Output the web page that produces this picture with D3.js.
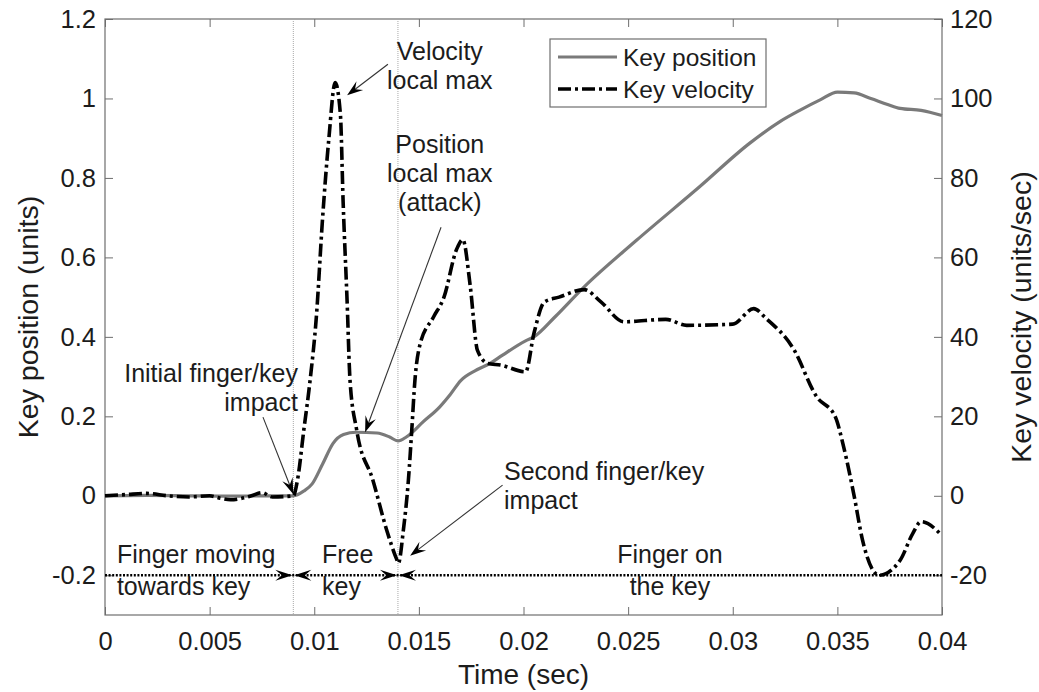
<!DOCTYPE html>
<html>
<head>
<meta charset="utf-8">
<script src="https://cdn.jsdelivr.net/npm/d3@7"></script>
<style>
  html, body { margin: 0; padding: 0; background: #fff; }
  svg { display: block; font-family: "Liberation Sans", Arial, Helvetica, sans-serif; }
</style>
</head>
<body>
<svg id="chart" width="1039" height="692"></svg>
<script>
// ---- data -------------------------------------------------------------
// Key position (units) sampled over time (sec)
const positionTime = [0, 0.002, 0.004, 0.006, 0.008, 0.009, 0.0095, 0.0099, 0.0104, 0.0109, 0.0114,
  0.012, 0.013, 0.0136, 0.014, 0.0144, 0.0152, 0.016, 0.0165, 0.017, 0.0177, 0.0184, 0.019,
  0.0201, 0.0205, 0.0215, 0.0229, 0.0254, 0.0284, 0.0308, 0.0322, 0.0332, 0.0342, 0.035, 0.0358,
  0.0366, 0.0374, 0.038, 0.039, 0.04];
const positionValue = [0, 0.001, 0, -0.001, 0, 0, 0.012, 0.03, 0.08, 0.132, 0.154,
  0.16, 0.158, 0.148, 0.138, 0.148, 0.186, 0.224, 0.255, 0.29, 0.315, 0.333, 0.354,
  0.39, 0.40, 0.45, 0.526, 0.643, 0.777, 0.887, 0.94, 0.97, 0.997, 1.016, 1.014,
  1.0, 0.985, 0.975, 0.97, 0.957];

// Key velocity (units/sec) sampled over time (sec)
const velocityTime = [0, 0.001, 0.002, 0.003, 0.004, 0.005, 0.0055, 0.006, 0.007, 0.0075, 0.008,
  0.009, 0.0092, 0.0095, 0.0098, 0.0101, 0.0104, 0.0107, 0.011, 0.01125, 0.01138, 0.01157, 0.01171,
  0.01203, 0.0128, 0.01346, 0.01394, 0.01402, 0.01426, 0.0145, 0.01466, 0.01481, 0.01505, 0.0157,
  0.0162, 0.0168, 0.0171, 0.01745, 0.0178, 0.0183, 0.0189, 0.0201, 0.0205, 0.021, 0.0217, 0.0229,
  0.0237, 0.0248, 0.0268, 0.0278, 0.030, 0.031, 0.0316, 0.0329, 0.034, 0.0349, 0.0353,
  0.0358, 0.0362, 0.037, 0.038, 0.0386, 0.039, 0.04];
const velocityValue = [0, 0.3, 0.6, 0, -0.3, 0, -0.6, -1, 0, 0.8, -0.3,
  0, 4, 16.5, 29, 45, 70, 90, 104, 96, 74, 49, 29,
  16.5, 4, -8.6, -16, -17, -8.6, 4, 16.5, 29, 38, 45,
  50, 62, 64.5, 53, 36.6, 33.3, 32.9, 31.2, 40.9, 48.8, 50, 51.9,
  48.8, 43.8, 44.4, 42.9, 43.2, 47.1, 44.6, 37, 25, 19.9, 12.3,
  0, -11.1, -20, -16.2, -9.5, -6.5, -10];

// axis ticks
const timeTicks = [0, 0.005, 0.01, 0.015, 0.02, 0.025, 0.03, 0.035, 0.04];
const timeTickLabels = ["0", "0.005", "0.01", "0.015", "0.02", "0.025", "0.03", "0.035", "0.04"];
const positionTicks = [-0.2, 0, 0.2, 0.4, 0.6, 0.8, 1, 1.2];
const positionTickLabels = ["-0.2", "0", "0.2", "0.4", "0.6", "0.8", "1", "1.2"];
const velocityTicks = [-20, 0, 20, 40, 60, 80, 100, 120];
const velocityTickLabels = ["-20", "0", "20", "40", "60", "80", "100", "120"];

// phase boundaries (sec) and the level of the phase arrows (position units)
const phaseBounds = [0, 0.009, 0.014, 0.04];
const phaseLevel = -0.2;

// annotation callouts: arrow from (t0,y0) to (t1,y1), in time / position units
const callouts = [
  { t0: 0.01352, y0: 1.086, t1: 0.01157, y1: 1.008 },
  { t0: 0.01606, y0: 0.676, t1: 0.01243, y1: 0.160 },
  { t0: 0.00755, y0: 0.198, t1: 0.00900, y1: 0.004 },
  { t0: 0.01900, y0: 0.027, t1: 0.01458, y1: -0.151 }
];
// annotation texts: anchor time, baseline positions, alignment
const notes = [
  { t: 0.0160, ys: [1.096, 1.023], anchor: "middle", lines: ["Velocity", "local max"] },
  { t: 0.0160, ys: [0.864, 0.791, 0.718], anchor: "middle", lines: ["Position", "local max", "(attack)"] },
  { t: 0.00922, ys: [0.286, 0.213], anchor: "end", lines: ["Initial finger/key", "impact"] },
  { t: 0.01907, ys: [0.0395, -0.033], anchor: "start", lines: ["Second finger/key", "impact"] },
  { t: 0.00057, ys: [-0.169, -0.249], anchor: "start", lines: ["Finger moving", "towards key"] },
  { t: 0.01037, ys: [-0.169, -0.249], anchor: "start", lines: ["Free", "key"] },
  { t: 0.0270, ys: [-0.169, -0.249], anchor: "middle", lines: ["Finger on", "the key"] }
];

const legendLabels = ["Key position", "Key velocity"];

// ---- layout -----------------------------------------------------------
const plot = { left: 105, right: 942, top: 19, bottom: 615 };
const boxColor = "#6e6e6e";
const textColor = "#1c1c1c";
const posColor = "#7a7a7a";
const velDash = "13,4,3,4";

const svg = d3.select("#chart");

const x = d3.scaleLinear().domain([0, 0.04]).range([plot.left, plot.right]);
const yPos = d3.scaleLinear().domain([-0.3, 1.2]).range([plot.bottom, plot.top]);
const yVel = d3.scaleLinear().domain([-30, 120]).range([plot.bottom, plot.top]);

// ---- axes (ticks pointing inward) -------------------------------------
function styleAxis(g, fontSize) {
  g.select(".domain").remove();
  g.selectAll(".tick line").attr("stroke", boxColor).attr("stroke-width", 1);
  g.selectAll(".tick text").attr("fill", textColor).attr("font-size", fontSize);
  g.attr("font-family", null).attr("font-size", null);
}

svg.append("g")
  .attr("transform", `translate(0,${plot.bottom})`)
  .call(d3.axisBottom(x).tickValues(timeTicks)
    .tickFormat((d, i) => timeTickLabels[i]).tickSize(-8).tickPadding(17))
  .call(g => styleAxis(g, 25.5));

svg.append("g")
  .attr("transform", `translate(0,${plot.top})`)
  .call(d3.axisTop(x).tickValues(timeTicks).tickFormat("").tickSize(-8))
  .call(g => styleAxis(g, 25.5));

svg.append("g")
  .attr("transform", `translate(${plot.left},0)`)
  .call(d3.axisLeft(yPos).tickValues(positionTicks)
    .tickFormat((d, i) => positionTickLabels[i]).tickSize(-8).tickPadding(9))
  .call(g => styleAxis(g, 25.5));

svg.append("g")
  .attr("transform", `translate(${plot.right},0)`)
  .call(d3.axisRight(yVel).tickValues(velocityTicks)
    .tickFormat((d, i) => velocityTickLabels[i]).tickSize(-8).tickPadding(8))
  .call(g => styleAxis(g, 25.5));

// plot frame
svg.append("rect")
  .attr("x", plot.left).attr("y", plot.top)
  .attr("width", plot.right - plot.left).attr("height", plot.bottom - plot.top)
  .attr("fill", "none").attr("stroke", boxColor).attr("stroke-width", 1.2);

// axis titles
const midY = (plot.top + plot.bottom) / 2;
svg.append("text")
  .attr("transform", `translate(38,${midY}) rotate(-90)`)
  .attr("text-anchor", "middle").attr("font-size", 28.5).attr("fill", textColor)
  .text("Key position (units)");
svg.append("text")
  .attr("transform", `translate(1031,${midY}) rotate(-90)`)
  .attr("text-anchor", "middle").attr("font-size", 28.5).attr("fill", textColor)
  .text("Key velocity (units/sec)");
svg.append("text")
  .attr("x", (plot.left + plot.right) / 2).attr("y", 684)
  .attr("text-anchor", "middle").attr("font-size", 28).attr("fill", textColor)
  .text("Time (sec)");

// ---- phase boundaries -------------------------------------------------
svg.append("g").selectAll("line")
  .data(phaseBounds.slice(1, -1))
  .join("line")
  .attr("x1", d => x(d)).attr("x2", d => x(d))
  .attr("y1", plot.top).attr("y2", plot.bottom)
  .attr("stroke", "#a8a8a8").attr("stroke-width", 1).attr("stroke-dasharray", "1,1");

// arrowhead with a notched back, tip at (px,py), pointing along angle (radians)
function arrowHead(g, px, py, angle, L, Wd) {
  g.append("path")
    .attr("d", `M0,0 L${-L},${-Wd / 2} L${-0.62 * L},0 L${-L},${Wd / 2} Z`)
    .attr("transform", `translate(${px},${py}) rotate(${angle * 180 / Math.PI})`)
    .attr("fill", "#000");
}

// dotted phase arrows along the -0.2 level
const phaseG = svg.append("g");
phaseG.append("line")
  .attr("x1", x(phaseBounds[0])).attr("x2", x(phaseBounds[3]))
  .attr("y1", yPos(phaseLevel)).attr("y2", yPos(phaseLevel))
  .attr("stroke", "#000").attr("stroke-width", 2.6).attr("stroke-dasharray", "2,1.6");
phaseBounds.slice(1, -1).forEach(b => {
  arrowHead(phaseG, x(b) - 1, yPos(phaseLevel), 0, 17, 11);
  arrowHead(phaseG, x(b) + 1, yPos(phaseLevel), Math.PI, 17, 11);
});

// ---- series -----------------------------------------------------------
const posData = positionTime.map((t, i) => [t, positionValue[i]]);
const velData = velocityTime.map((t, i) => [t, velocityValue[i]]);

const posLine = d3.line().x(d => x(d[0])).y(d => yPos(d[1])).curve(d3.curveMonotoneX);
const velLine = d3.line().x(d => x(d[0])).y(d => yVel(d[1])).curve(d3.curveMonotoneX);

svg.append("path").datum(posData)
  .attr("d", posLine).attr("fill", "none")
  .attr("stroke", posColor).attr("stroke-width", 3.2).attr("stroke-linejoin", "round");

svg.append("path").datum(velData)
  .attr("d", velLine).attr("fill", "none")
  .attr("stroke", "#000").attr("stroke-width", 3.6)
  .attr("stroke-dasharray", velDash);

// ---- annotations ------------------------------------------------------
const noteG = svg.append("g");
callouts.forEach(c => {
  const x0 = x(c.t0), y0 = yPos(c.y0), x1 = x(c.t1), y1 = yPos(c.y1);
  const ang = Math.atan2(y1 - y0, x1 - x0);
  noteG.append("line")
    .attr("x1", x0).attr("y1", y0)
    .attr("x2", x1 - Math.cos(ang) * 8).attr("y2", y1 - Math.sin(ang) * 8)
    .attr("stroke", "#333").attr("stroke-width", 1.1);
  arrowHead(noteG, x1, y1, ang, 16, 11);
});

notes.forEach(n => {
  const t = noteG.append("text")
    .attr("text-anchor", n.anchor).attr("font-size", 25).attr("fill", textColor);
  n.lines.forEach((s, i) => {
    t.append("tspan").attr("x", x(n.t)).attr("y", yPos(n.ys[i])).text(s);
  });
});

// ---- legend -----------------------------------------------------------
const leg = svg.append("g");
leg.append("rect")
  .attr("x", 550).attr("y", 39).attr("width", 216).attr("height", 68)
  .attr("fill", "#fff").attr("stroke", boxColor).attr("stroke-width", 1.2);
const legRows = [
  { label: legendLabels[0], color: posColor, width: 3.2, dash: null },
  { label: legendLabels[1], color: "#000", width: 3.6, dash: velDash }
];
legRows.forEach((r, i) => {
  const cy = 57 + i * 32;
  leg.append("line")
    .attr("x1", 558).attr("x2", 617).attr("y1", cy).attr("y2", cy)
    .attr("stroke", r.color).attr("stroke-width", r.width)
    .attr("stroke-dasharray", r.dash);
  leg.append("text")
    .attr("x", 623).attr("y", cy + 8.5)
    .attr("font-size", 24.5).attr("fill", textColor).text(r.label);
});
</script>
</body>
</html>
